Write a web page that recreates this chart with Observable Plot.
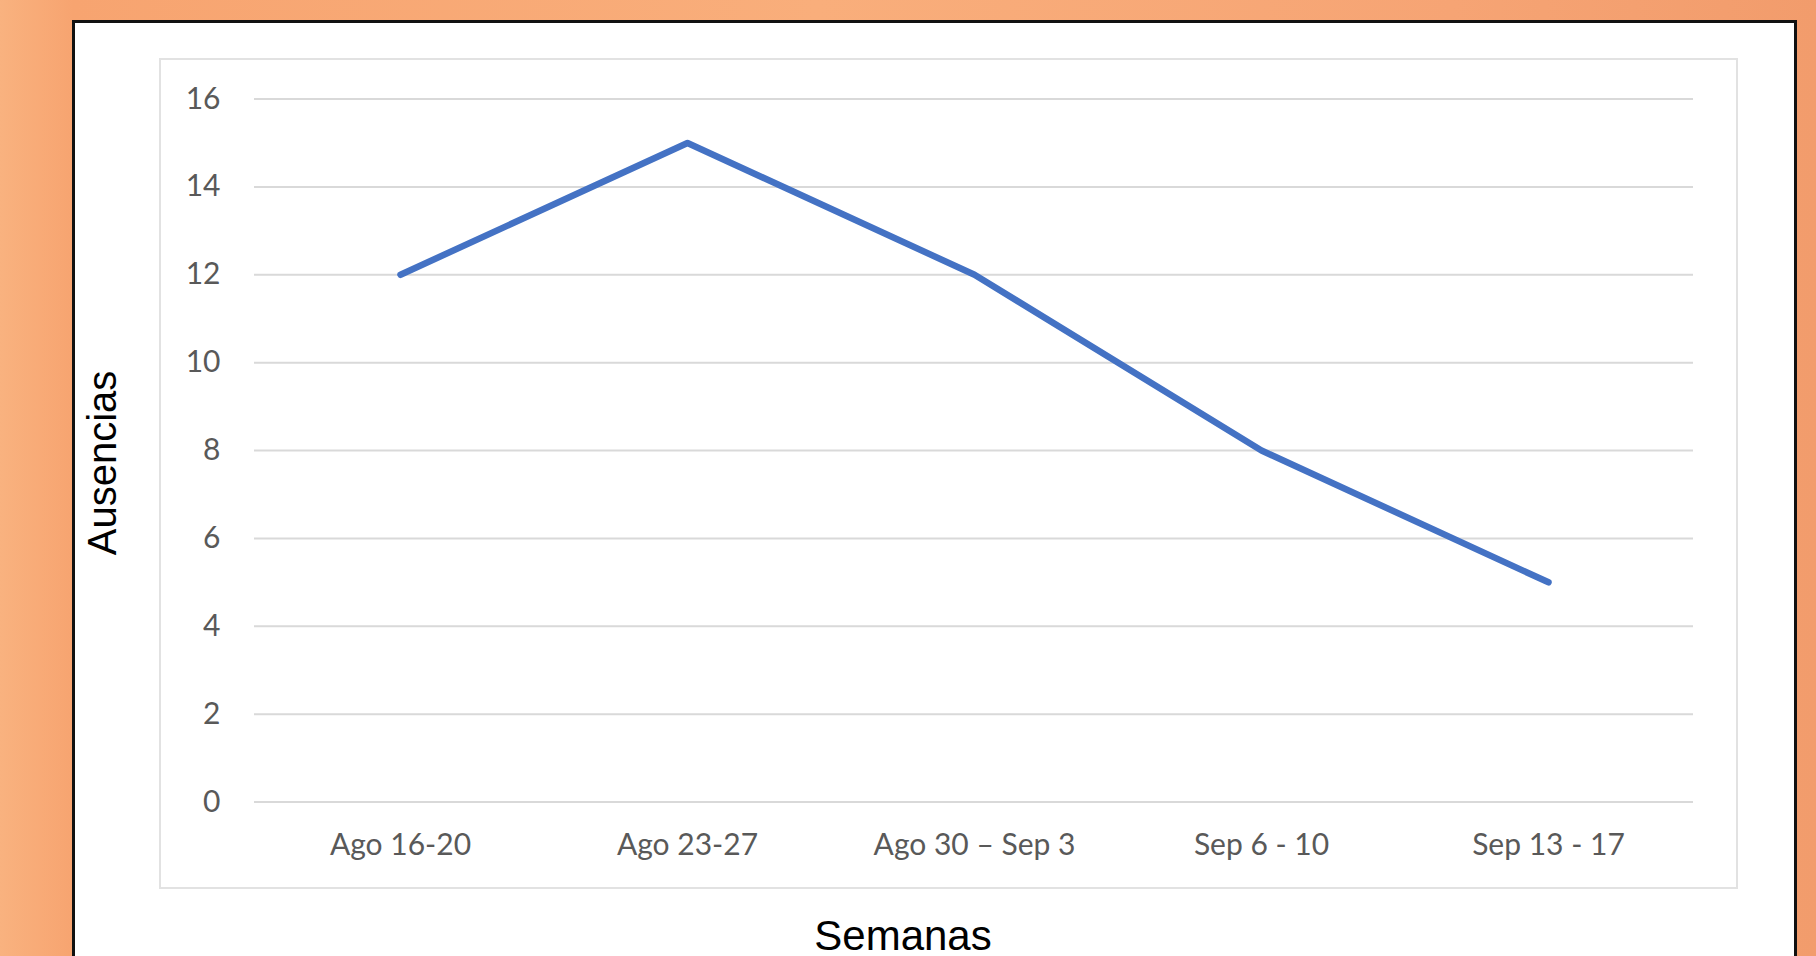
<!DOCTYPE html>
<html>
<head>
<meta charset="utf-8">
<script src="https://cdn.jsdelivr.net/npm/d3@7"></script>
<script src="https://cdn.jsdelivr.net/npm/@observablehq/plot@0.6"></script>
<style>
  html, body { margin: 0; padding: 0; width: 1816px; height: 956px; overflow: hidden; }
  body { background: linear-gradient(90deg, #f9b27f 0%, #f7a470 4%, #f9ae7b 45%, #f6a474 80%, #f29c6c 100%); position: relative; }
  #card { position: absolute; left: 72px; top: 20px; width: 1725px; height: 1000px; background: #fff; border: 3px solid #111; box-sizing: border-box; }
  #frame { position: absolute; left: 159px; top: 58px; border: 2px solid #e2e2e2; line-height: 0; background: #fff; }
  .axtitle { position: absolute; font-family: "Liberation Sans", Arial, sans-serif; font-size: 40px; line-height: 40px; color: #000; white-space: nowrap; }
  #ytitle { left: 102px; top: 463px; transform: translate(-50%, -50%) rotate(-90deg); }
  #xtitle { left: 903px; top: 916px; transform: translateX(-50%); font-size: 42px; }
</style>
</head>
<body>
<div id="card"></div>
<div id="frame"></div>
<div id="ytitle" class="axtitle">Ausencias</div>
<div id="xtitle" class="axtitle">Semanas</div>
<script>
const semanas = ["Ago 16-20", "Ago 23-27", "Ago 30 – Sep 3", "Sep 6 - 10", "Sep 13 - 17"];
const ausencias = [12, 15, 12, 8, 5];
const yTicks = [0, 2, 4, 6, 8, 10, 12, 14, 16];

const data = semanas.map((s, i) => ({semana: s, ausencias: ausencias[i]}));

const chart = Plot.plot({
  width: 1575,
  height: 827,
  marginLeft: 93,
  marginRight: 43,
  marginTop: 38.5,
  marginBottom: 85.5,
  style: {fontFamily: "Lato, 'Open Sans', sans-serif", fontSize: "30px", color: "#595959", background: "#fff"},
  x: {type: "point", domain: semanas, padding: 0.5, label: null},
  y: {domain: [0, 16], label: null},
  marks: [
    Plot.gridY(yTicks, {stroke: "#d9d9d9", strokeOpacity: 1, strokeWidth: 2}),
    Plot.axisY(yTicks, {tickSize: 0, tickPadding: 34, label: null, fill: "#595959"}),
    Plot.axisX({tickSize: 0, tickPadding: 32, label: null, fill: "#595959"}),
    Plot.line(data, {x: "semana", y: "ausencias", stroke: "#4472C4", strokeWidth: 6.5})
  ]
});
document.getElementById("frame").appendChild(chart);
</script>
</body>
</html>
